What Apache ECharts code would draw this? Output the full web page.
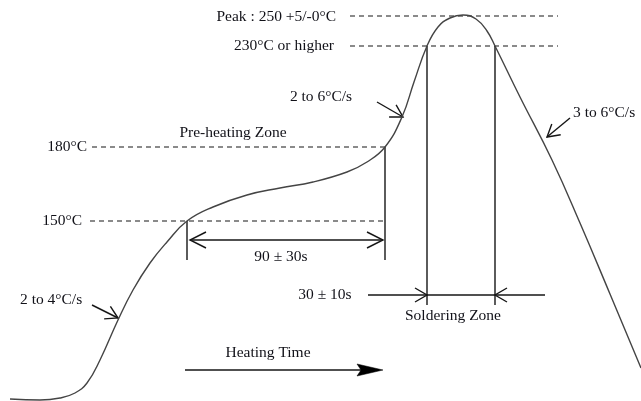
<!DOCTYPE html>
<html>
<head>
<meta charset="utf-8">
<script src="https://cdn.jsdelivr.net/npm/echarts@6/dist/echarts.min.js"></script>
<style>html,body{margin:0;padding:0;background:#fff}#c{width:641px;height:401px}</style>
</head>
<body>
<div id="c"></div>
<script>
// Schematic reflow profile (diagram units: time along x, temperature level along y, not to scale)
const curveTime  = [10, 40, 60, 75, 87, 100, 118, 133, 150, 167, 187, 213, 247, 280, 313, 347, 367, 385, 402, 414, 427, 438, 450, 463, 476, 487, 495, 520, 552, 580, 610, 641];
const curveLevel = [399, 400, 398, 393, 383, 360, 320, 290, 263, 242, 221, 207, 195, 188, 182, 172, 162, 147, 117, 82, 46, 27, 18, 15, 19, 31, 46, 97, 160, 223, 294, 368];

// Temperature guide lines
const tempLabels = ['Peak : 250 +5/-0°C', '230°C or higher', '180°C', '150°C'];
const tempLevel  = [16, 46, 147, 221];
const guideFrom  = [350, 350, 92, 90];
const guideTo    = [558, 558, 385, 385];

// Time markers (vertical lines): time, top level, bottom level
const markTime   = [187, 385, 427, 495];
const markTop    = [221, 147, 46, 46];
const markBottom = [260, 260, 305, 305];

// Slope notes
const slopeLabels = ['2 to 4°C/s', '2 to 6°C/s', '3 to 6°C/s'];

// Zone / duration notes
const zoneLabels = ['Pre-heating Zone', '90 ± 30s', '30 ± 10s', 'Soldering Zone', 'Heating Time'];

const FONT = '15.5px "Liberation Serif", "DejaVu Serif", serif';
const TXT = '#111118';
const INK = '#161616';

// arrows: [x1, y1, x2, y2, head] head: 'open' | 'both' | 'filled' | 'none'
const arrows = [
  [190, 240, 383, 240, 'both'],
  [368, 295, 427, 295, 'open'],
  [427, 295, 495, 295, 'none'],
  [545, 295, 495, 295, 'open'],
  [92, 305, 118, 318, 'open'],
  [377, 102, 403, 117, 'open'],
  [570, 118, 547, 137, 'open'],
  [185, 370, 383, 370, 'filled']
];

// texts: [x, y, text, align]
const texts = [
  [336, 17, tempLabels[0], 'right'],
  [334, 46, tempLabels[1], 'right'],
  [87, 147, tempLabels[2], 'right'],
  [82, 221, tempLabels[3], 'right'],
  [20, 300, slopeLabels[0], 'left'],
  [321, 97, slopeLabels[1], 'center'],
  [573, 113, slopeLabels[2], 'left'],
  [233, 133, zoneLabels[0], 'center'],
  [281, 257, zoneLabels[1], 'center'],
  [325, 295, zoneLabels[2], 'center'],
  [453, 316, zoneLabels[3], 'center'],
  [268, 353, zoneLabels[4], 'center']
];

function headPts(tip, from, L, W) {
  const dx = tip[0] - from[0], dy = tip[1] - from[1];
  const len = Math.sqrt(dx * dx + dy * dy) || 1;
  const ux = dx / len, uy = dy / len;
  const nx = -uy, ny = ux;
  return [
    [tip[0] - L * ux + W * nx, tip[1] - L * uy + W * ny],
    [tip[0], tip[1]],
    [tip[0] - L * ux - W * nx, tip[1] - L * uy - W * ny]
  ];
}

const chart = echarts.init(document.getElementById('c'));
chart.setOption({
  animation: false,
  backgroundColor: '#fff',
  grid: { left: 0, right: 0, top: 0, bottom: 0 },
  xAxis: { type: 'value', min: 0, max: 641, show: false },
  yAxis: { type: 'value', min: 0, max: 401, inverse: true, show: false },
  series: [
    {
      type: 'line',
      data: curveTime.map((t, i) => [t, curveLevel[i]]),
      smooth: 0.45,
      symbol: 'none',
      lineStyle: { color: '#444', width: 1.4 },
      z: 3
    },
    {
      type: 'custom',
      clip: false,
      data: tempLevel.map((y, i) => [guideFrom[i], guideTo[i], y]),
      renderItem: function (params, api) {
        const a = api.coord([api.value(0), api.value(2)]);
        const b = api.coord([api.value(1), api.value(2)]);
        return {
          type: 'line',
          shape: { x1: a[0], y1: a[1], x2: b[0], y2: b[1] },
          style: { stroke: INK, lineWidth: 1.2, lineDash: [5, 4] }
        };
      }
    },
    {
      type: 'custom',
      clip: false,
      data: markTime.map((x, i) => [x, markTop[i], markBottom[i]]),
      renderItem: function (params, api) {
        const a = api.coord([api.value(0), api.value(1)]);
        const b = api.coord([api.value(0), api.value(2)]);
        return {
          type: 'line',
          shape: { x1: a[0], y1: a[1], x2: b[0], y2: b[1] },
          style: { stroke: INK, lineWidth: 1.4 }
        };
      }
    },
    {
      type: 'custom',
      clip: false,
      data: arrows.map(a => [a[0], a[1], a[2], a[3]]),
      renderItem: function (params, api) {
        const kind = arrows[params.dataIndex][4];
        const p1 = api.coord([api.value(0), api.value(1)]);
        const p2 = api.coord([api.value(2), api.value(3)]);
        const children = [{
          type: 'line',
          shape: { x1: p1[0], y1: p1[1], x2: kind === 'filled' ? p2[0] - 10 : p2[0], y2: p2[1] },
          style: { stroke: INK, lineWidth: 1.4 }
        }];
        if (kind === 'open' || kind === 'both') {
          const L = kind === 'both' ? 16 : 12, W = kind === 'both' ? 8 : 7;
          children.push({ type: 'polyline', shape: { points: headPts(p2, p1, L, W) }, style: { stroke: INK, lineWidth: 1.4, fill: null } });
          if (kind === 'both') {
            children.push({ type: 'polyline', shape: { points: headPts(p1, p2, L, W) }, style: { stroke: INK, lineWidth: 1.4, fill: null } });
          }
        }
        if (kind === 'filled') {
          const pts = headPts(p2, p1, 26, 6);
          children.push({ type: 'polygon', shape: { points: [pts[0], pts[1], pts[2], [p2[0] - 22, p2[1]]] }, style: { fill: '#000', stroke: '#000', lineWidth: 0.5 } });
        }
        return { type: 'group', children: children };
      }
    },
    {
      type: 'custom',
      clip: false,
      data: texts.map(t => [t[0], t[1]]),
      renderItem: function (params, api) {
        const t = texts[params.dataIndex];
        const p = api.coord([api.value(0), api.value(1)]);
        return {
          type: 'text',
          x: p[0], y: p[1],
          style: { text: t[2], font: FONT, fill: TXT, align: t[3], verticalAlign: 'middle' }
        };
      }
    }
  ]
});
</script>
</body>
</html>
